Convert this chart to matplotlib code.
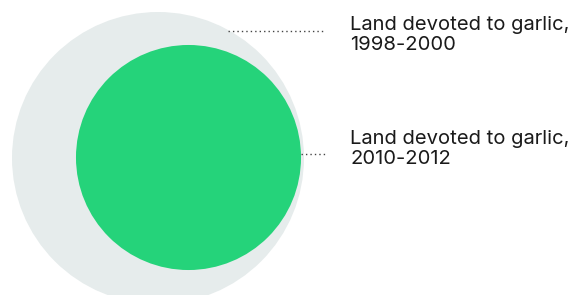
import numpy as np
import matplotlib
matplotlib.use("Agg")
import matplotlib.pyplot as plt
from matplotlib.patches import Circle

# Data: relative land area devoted to garlic
periods = ["1998-2000", "2010-2012"]
labels = ["Land devoted to garlic,\n1998-2000", "Land devoted to garlic,\n2010-2012"]
relative_area = [1.0, 0.594]
colors = ["#E6ECEC", "#25D37A"]

W, H = 577, 295
fig = plt.figure(figsize=(W / 100, H / 100), dpi=100)
ax = fig.add_axes([0, 0, 1, 1])
ax.set_xlim(0, W)
ax.set_ylim(H, 0)
ax.set_aspect("equal")
ax.axis("off")

base_r = 146
radii = [base_r * np.sqrt(a) for a in relative_area]
centers = [(158, 158), (188.5, 157.5)]
for (cx, cy), r, c in zip(centers, radii, colors):
    ax.add_patch(Circle((cx, cy), r, facecolor=c, edgecolor="none"))

# leader lines
line_y = [31, 154]
line_x0 = [228, centers[1][0] + radii[1]]
for y, x0 in zip(line_y, line_x0):
    ax.plot([x0, 325], [y, y], color="#444444", lw=1.0, linestyle=(0, (1, 2.2)))

# text, sized to match reference width
fam = "Inter"
fig.canvas.draw()
t = ax.text(0, 0, "Land devoted to garlic,", fontsize=10, family=fam)
r = fig.canvas.get_renderer()
w = t.get_window_extent(r).width
t.remove()
fs = 10 * 220 / w

# baseline of the last line of each label
text_y = [50, 164]
for y, lab in zip(text_y, labels):
    ax.text(350, y, lab, fontsize=fs, family=fam, color="#1a1a1a",
            va="baseline", ha="left", linespacing=1.12)

fig.savefig("out.png", dpi=100)
